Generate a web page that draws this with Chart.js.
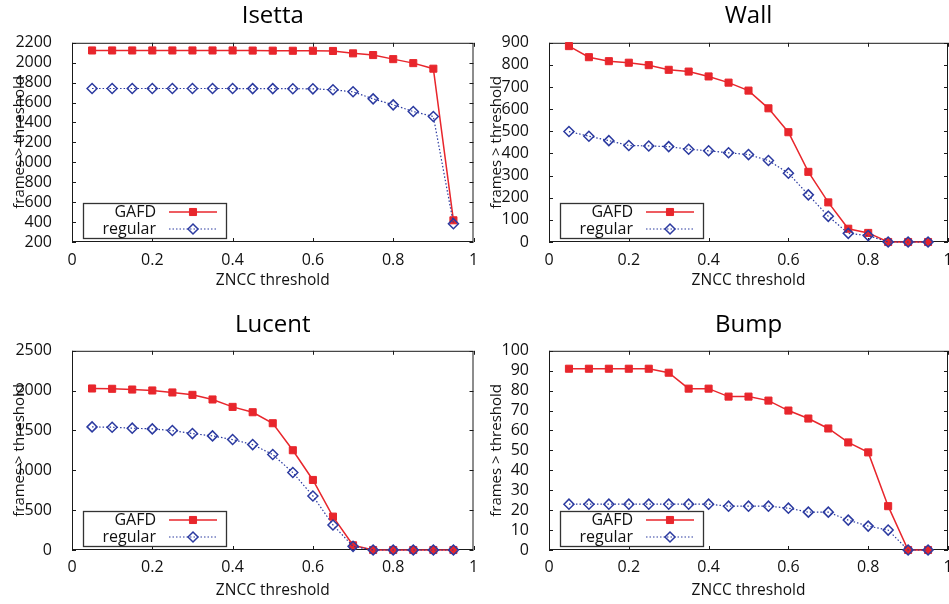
<!DOCTYPE html>
<html>
<head>
<meta charset="utf-8">
<title>frames > threshold</title>
<script src="https://cdn.jsdelivr.net/npm/chart.js@4.4.1/dist/chart.umd.min.js"></script>
<style>
    html, body { margin: 0; padding: 0; background: #fff; overflow: hidden; }
    body { width: 949px; height: 604px; position: relative; }
    canvas { position: absolute; }
</style>
</head>
<body>
<canvas id="isettaChart" width="480" height="300" style="left:0;top:0"></canvas>
<canvas id="wallChart" width="480" height="300" style="left:477px;top:0"></canvas>
<canvas id="lucentChart" width="480" height="304" style="left:0;top:300px"></canvas>
<canvas id="bumpChart" width="480" height="304" style="left:477px;top:300px"></canvas>
<script>
/* ZNCC thresholds (x axis) */
const thresholds = [0.05, 0.1, 0.15, 0.2, 0.25, 0.3, 0.35, 0.4, 0.45, 0.5,
                    0.55, 0.6, 0.65, 0.7, 0.75, 0.8, 0.85, 0.9, 0.95];

/* frames above threshold, per sequence */
const isettaGafd    = [2123, 2123, 2123, 2123, 2123, 2123, 2123, 2123, 2122, 2121, 2120, 2120, 2118, 2094, 2077, 2036, 1996, 1940, 418];
const isettaRegular = [1741, 1741, 1741, 1741, 1741, 1741, 1741, 1741, 1740, 1740, 1739, 1738, 1728, 1708, 1637, 1577, 1510, 1460, 384];

const wallGafd    = [885, 835, 817, 810, 799, 778, 770, 748, 720, 684, 604, 496, 317, 179, 60, 41, 0, 0, 0];
const wallRegular = [499, 478, 458, 436, 434, 431, 419, 412, 403, 395, 368, 311, 213, 116, 39, 29, 0, 0, 0];

const lucentGafd    = [2027, 2023, 2014, 2002, 1977, 1947, 1889, 1796, 1729, 1591, 1252, 879, 419, 59, 0, 0, 0, 0, 0];
const lucentRegular = [1545, 1541, 1529, 1520, 1499, 1461, 1432, 1386, 1323, 1198, 972, 678, 314, 46, 0, 0, 0, 0, 0];

const bumpGafd    = [91, 91, 91, 91, 91, 89, 81, 81, 77, 77, 75, 70, 66, 61, 54, 49, 22, 0, 0];
const bumpRegular = [23, 23, 23, 23, 23, 23, 23, 23, 22, 22, 22, 21, 19, 19, 15, 12, 10, 0, 0];

/* y axis ranges: [min, max, step] */
const isettaRange = [200, 2200, 200];
const wallRange   = [0, 900, 100];
const lucentRange = [0, 2500, 500];
const bumpRange   = [0, 100, 10];

const seriesNames = ['GAFD', 'regular'];

const COLORS = {
    red: '#e8262c',
    blue: '#2b3aa0',
    frame: '#1a1a1a',
    text: '#111'
};
const FONT = '"Open Sans", "DejaVu Sans", sans-serif';

Chart.defaults.font.family = FONT;
Chart.defaults.color = COLORS.text;

const toPoints = (values) => values.map((v, i) => ({ x: thresholds[i], y: v }));
const plainNumber = (value) => String(Math.round(value * 1000) / 1000);

/**
 * gnuplot-like border with inward ticks on all four sides
 */
const framePlugin = {
    id: 'gnuplotFrame',
    beforeDatasetsDraw(chart) {
        const { ctx, chartArea: a, scales } = chart;
        const len = 4;
        ctx.save();
        ctx.strokeStyle = COLORS.frame;
        ctx.lineWidth = 1;
        ctx.strokeRect(a.left + 0.5, a.top + 0.5, a.right - a.left - 1, a.bottom - a.top - 1);
        ctx.beginPath();
        scales.x.ticks.forEach(t => {
            const px = Math.round(scales.x.getPixelForValue(t.value)) + 0.5;
            ctx.moveTo(px, a.bottom); ctx.lineTo(px, a.bottom - len);
            ctx.moveTo(px, a.top); ctx.lineTo(px, a.top + len);
        });
        scales.y.ticks.forEach(t => {
            const py = Math.round(scales.y.getPixelForValue(t.value)) + 0.5;
            ctx.moveTo(a.left, py); ctx.lineTo(a.left + len, py);
            ctx.moveTo(a.right, py); ctx.lineTo(a.right - len, py);
        });
        ctx.stroke();
        ctx.restore();
    }
};

/**
 * Key box in the lower left corner: label, then line sample with marker
 */
const keyPlugin = {
    id: 'gnuplotKey',
    afterDatasetsDraw(chart) {
        const { ctx, chartArea: a } = chart;
        const boxX = a.left + 11, boxY = a.bottom - 39, boxW = 143, boxH = 35;
        ctx.save();
        ctx.fillStyle = '#fff';
        ctx.fillRect(boxX, boxY, boxW, boxH);
        ctx.strokeStyle = '#333';
        ctx.lineWidth = 1.3;
        ctx.strokeRect(boxX + 0.5, boxY + 0.5, boxW, boxH);

        chart.data.datasets.forEach((ds, i) => {
            const rowY = a.bottom - 30 + i * 17;
            ctx.font = '16px ' + FONT;
            ctx.fillStyle = COLORS.text;
            ctx.textAlign = 'right';
            ctx.textBaseline = 'middle';
            ctx.fillText(ds.label, a.left + 84, rowY);

            ctx.strokeStyle = ds.borderColor;
            ctx.lineWidth = ds.borderWidth;
            ctx.setLineDash(ds.borderDash || []);
            ctx.beginPath();
            ctx.moveTo(a.left + 97, rowY);
            ctx.lineTo(a.left + 145, rowY);
            ctx.stroke();
            ctx.setLineDash([]);

            ctx.fillStyle = ds.pointBackgroundColor;
            ctx.strokeStyle = ds.pointBorderColor;
            ctx.lineWidth = ds.pointBorderWidth;
            Chart.helpers.drawPoint(ctx, {
                pointStyle: ds.pointStyle,
                radius: ds.pointRadius,
                rotation: 0,
                borderWidth: ds.pointBorderWidth
            }, a.left + 121, rowY);
        });
        ctx.restore();
    }
};

/**
 * Create one "frames > threshold" panel
 */
const createPanel = (id, title, gafd, regular, range, lay) => {
    const ctx = document.getElementById(id).getContext('2d');
    return new Chart(ctx, {
        type: 'line',
        data: {
            datasets: [{
                label: seriesNames[0],
                data: toPoints(gafd),
                borderColor: COLORS.red,
                borderWidth: 1.5,
                pointStyle: 'rect',
                pointRadius: 5,
                pointBackgroundColor: COLORS.red,
                pointBorderColor: COLORS.red,
                pointBorderWidth: 1,
                clip: false,
                order: 1
            }, {
                label: seriesNames[1],
                data: toPoints(regular),
                borderColor: COLORS.blue,
                borderWidth: 1.2,
                borderDash: [1.5, 2],
                pointStyle: 'rectRot',
                pointRadius: 5,
                pointBackgroundColor: 'rgba(0,0,0,0)',
                pointBorderColor: COLORS.blue,
                pointBorderWidth: 1.5,
                clip: false,
                order: 0
            }]
        },
        options: {
            responsive: false,
            animation: false,
            devicePixelRatio: 1,
            layout: { padding: { left: 7, right: lay.padRight, top: 0, bottom: 0 } },
            scales: {
                x: {
                    type: 'linear',
                    min: 0,
                    max: 1,
                    grid: { display: false },
                    border: { display: false },
                    ticks: {
                        stepSize: 0.2,
                        autoSkip: false,
                        maxRotation: 0,
                        padding: lay.xTickPad,
                        font: { size: 16 },
                        color: COLORS.text,
                        callback: plainNumber
                    },
                    title: {
                        display: true,
                        text: 'ZNCC threshold',
                        font: { size: 15.5 },
                        color: COLORS.text,
                        padding: { top: 0, bottom: lay.xTitlePad }
                    },
                    afterFit: (scale) => { scale.height = lay.xHeight; }
                },
                y: {
                    min: range[0],
                    max: range[1],
                    grid: { display: false },
                    border: { display: false },
                    ticks: {
                        stepSize: range[2],
                        autoSkip: false,
                        padding: 12,
                        font: { size: 16 },
                        color: COLORS.text,
                        callback: plainNumber
                    },
                    title: {
                        display: true,
                        text: 'frames > threshold',
                        font: { size: 15 },
                        color: COLORS.text,
                        padding: { top: 4, bottom: 0 }
                    },
                    afterFit: (scale) => { scale.width = 65; }
                }
            },
            plugins: {
                legend: { display: false },
                tooltip: { enabled: false },
                title: {
                    display: true,
                    text: title,
                    fullSize: false,
                    color: '#000',
                    font: { size: 24, weight: 'normal' },
                    padding: { top: lay.titleTop, bottom: lay.titleBottom }
                }
            }
        },
        plugins: [framePlugin, keyPlugin]
    });
};

const topLayout = { titleTop: 2, titleBottom: 12, xHeight: 58, xTickPad: 1, xTitlePad: 10 };
const bottomLayout = { titleTop: 11, titleBottom: 11, xHeight: 54, xTickPad: 0, xTitlePad: 4 };

createPanel('isettaChart', 'Isetta', isettaGafd, isettaRegular, isettaRange, { ...topLayout, padRight: 6 });
createPanel('wallChart', 'Wall', wallGafd, wallRegular, wallRange, { ...topLayout, padRight: 9 });
createPanel('lucentChart', 'Lucent', lucentGafd, lucentRegular, lucentRange, { ...bottomLayout, padRight: 6 });
createPanel('bumpChart', 'Bump', bumpGafd, bumpRegular, bumpRange, { ...bottomLayout, padRight: 9 });
</script>
</body>
</html>
